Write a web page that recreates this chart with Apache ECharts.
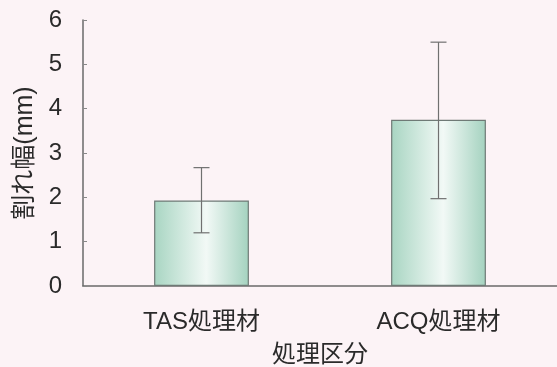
<!DOCTYPE html>
<html><head><meta charset="utf-8">
<script src="https://cdn.jsdelivr.net/npm/echarts@6/dist/echarts.min.js"></script>
<style>html,body{margin:0;padding:0;background:#fcf3f6;}#c{width:557px;height:367px;}</style>
</head><body><div id="c"></div>
<script>
const categories = ['TAS処理材', 'ACQ処理材'];
const means = [1.93, 3.75];
const errLow = [1.2, 1.97];
const errHigh = [2.67, 5.5];
const yTicks = [0, 1, 2, 3, 4, 5, 6];

const FONT = '"Liberation Sans", "Noto Sans CJK JP", sans-serif';
const chart = echarts.init(document.getElementById('c'));
chart.setOption({
  backgroundColor: '#fcf3f6',
  animation: false,
  grid: { left: 83, right: 0, top: 20, bottom: 81, outerBoundsMode: 'none', containLabel: false },
  xAxis: {
    type: 'category', data: categories,
    name: '処理区分', nameLocation: 'middle', nameGap: 57,
    nameTextStyle: { fontFamily: FONT, fontSize: 24, color: '#2a2a2a' },
    axisLine: { lineStyle: { color: '#6a6a6a', width: 1.5 } },
    axisTick: { show: false },
    axisLabel: { fontFamily: FONT, fontSize: 24, color: '#2a2a2a', margin: 24 }
  },
  yAxis: {
    type: 'value', min: yTicks[0], max: yTicks[yTicks.length - 1], interval: 1,
    name: '割れ幅(mm)', nameLocation: 'middle', nameGap: 43,
    nameTextStyle: { fontFamily: FONT, fontSize: 25, color: '#2a2a2a' },
    axisLine: { show: true, lineStyle: { color: '#6a6a6a', width: 1.5 } },
    axisTick: { show: true, inside: true, length: 4, lineStyle: { color: '#888' } },
    splitLine: { show: false },
    axisLabel: { fontFamily: FONT, fontSize: 24, color: '#2a2a2a', margin: 21 }
  },
  series: [
    {
      type: 'bar', data: means, barWidth: '40%',
      itemStyle: {
        color: new echarts.graphic.LinearGradient(0, 0, 1, 0, [
          { offset: 0, color: '#a8d5c2' },
          { offset: 0.55, color: '#f2f9f6' },
          { offset: 1, color: '#a4d2bf' }
        ]),
        borderColor: '#6f7a76', borderWidth: 1.2
      }
    },
    {
      type: 'custom',
      data: categories.map((c, i) => [i, errLow[i], errHigh[i]]),
      renderItem: function (params, api) {
        const lo = api.coord([api.value(0), api.value(1)]);
        const hi = api.coord([api.value(0), api.value(2)]);
        const w = 8;
        const st = { stroke: '#707070', lineWidth: 1.2 };
        return {
          type: 'group', children: [
            { type: 'line', shape: { x1: hi[0], y1: hi[1], x2: lo[0], y2: lo[1] }, style: st },
            { type: 'line', shape: { x1: hi[0] - w, y1: hi[1], x2: hi[0] + w, y2: hi[1] }, style: st },
            { type: 'line', shape: { x1: lo[0] - w, y1: lo[1], x2: lo[0] + w, y2: lo[1] }, style: st }
          ]
        };
      },
      z: 10
    }
  ]
});
</script></body></html>
